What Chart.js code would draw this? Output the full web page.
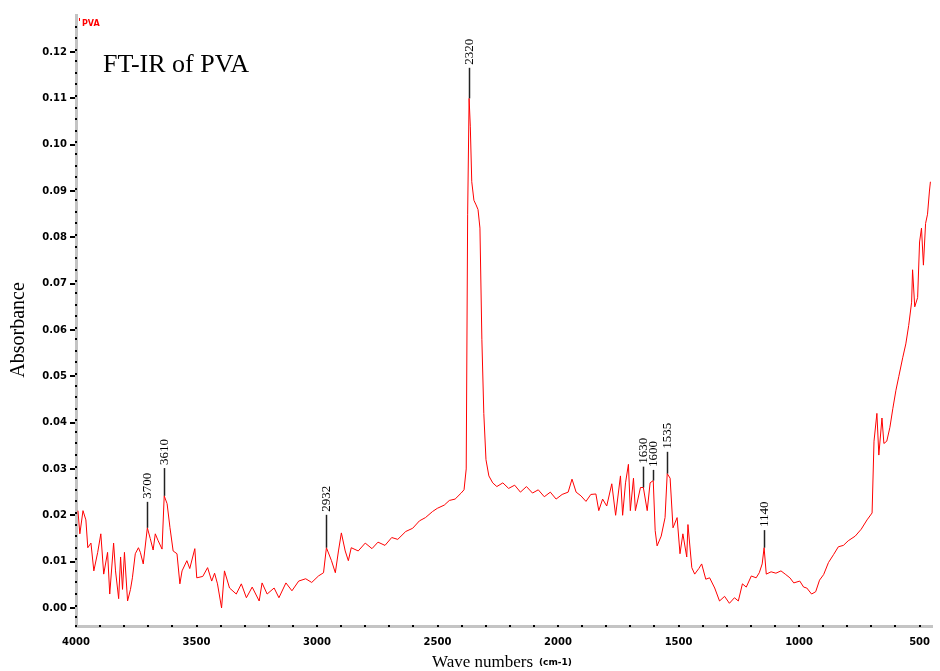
<!DOCTYPE html>
<html>
<head>
<meta charset="utf-8">
<script src="https://cdn.jsdelivr.net/npm/chart.js@4.4.0/dist/chart.umd.min.js"></script>
<style>
  html, body { margin: 0; padding: 0; background: #fff; }
  canvas { display: block; }
</style>
</head>
<body>
<canvas id="ftir" width="940" height="671"></canvas>
<script>
// spectrum (wave number, absorbance)
const waveNumbers = [
  3992, 3984, 3971, 3959, 3951, 3938, 3926, 3910, 3897, 3885, 3869, 3860, 3844, 3836, 3823, 3815,
  3807, 3799, 3786, 3774, 3766, 3754, 3741, 3733, 3721, 3704, 3692, 3680, 3671, 3659, 3643, 3634,
  3622, 3610, 3597, 3581, 3569, 3560, 3540, 3528, 3507, 3499, 3474, 3454, 3437, 3425, 3413, 3396,
  3384, 3363, 3335, 3314, 3293, 3269, 3240, 3228, 3207, 3178, 3158, 3129, 3104, 3076, 3047, 3022,
  2994, 2973, 2961, 2940, 2924, 2911, 2899, 2883, 2870, 2858, 2829, 2800, 2772, 2747, 2718, 2690,
  2665, 2632, 2603, 2575, 2550, 2521, 2501, 2472, 2451, 2427, 2402, 2390, 2381, 2375, 2369, 2364,
  2358, 2349, 2340, 2332, 2324, 2316, 2308, 2299, 2287, 2271, 2254, 2229, 2205, 2180, 2156, 2131,
  2106, 2082, 2057, 2032, 2008, 1983, 1958, 1942, 1925, 1905, 1884, 1864, 1843, 1831, 1815, 1798,
  1777, 1761, 1741, 1732, 1720, 1708, 1700, 1687, 1679, 1658, 1646, 1630, 1618, 1605, 1597, 1589,
  1572, 1556, 1547, 1535, 1523, 1506, 1494, 1482, 1466, 1461, 1445, 1433, 1416, 1404, 1387, 1371,
  1350, 1330, 1309, 1289, 1268, 1252, 1235, 1219, 1198, 1178, 1165, 1153, 1145, 1136, 1116, 1096,
  1075, 1055, 1038, 1022, 997, 981, 968, 948, 931, 915, 898, 878, 857, 837, 816, 796,
  767, 742, 718, 697, 689, 677, 669, 656, 648, 636, 623, 611, 598, 586, 570, 557,
  545, 533, 529, 520, 508, 500, 492, 484, 475, 467, 459, 455
];
const absorbance = [
  0.021, 0.016, 0.021, 0.019, 0.013, 0.014, 0.008, 0.012, 0.016, 0.0073, 0.012, 0.003, 0.014, 0.008, 0.002, 0.011,
  0.004, 0.012, 0.0015, 0.004, 0.0065, 0.0117, 0.013, 0.012, 0.0095, 0.0173, 0.015, 0.0125, 0.016, 0.0145, 0.0127, 0.0242,
  0.0225, 0.0173, 0.0123, 0.0117, 0.0052, 0.008, 0.0102, 0.0085, 0.0128, 0.0065, 0.0068, 0.0087, 0.0058, 0.0075, 0.0052, 0.0,
  0.008, 0.0043, 0.003, 0.0052, 0.0022, 0.0045, 0.0015, 0.0054, 0.003, 0.0043, 0.0022, 0.0054, 0.0037, 0.0058, 0.0063, 0.0055,
  0.0069, 0.0076, 0.013, 0.0102, 0.0076, 0.0123, 0.0162, 0.0123, 0.0102, 0.013, 0.0123, 0.014, 0.0128, 0.0142, 0.0135, 0.0152,
  0.0148, 0.0165, 0.0172, 0.0188, 0.0195, 0.0208, 0.0215, 0.0222, 0.0232, 0.0235, 0.0248, 0.0255, 0.030, 0.085, 0.110, 0.104,
  0.092, 0.088, 0.087, 0.086, 0.082, 0.058, 0.042, 0.032, 0.0285, 0.027, 0.0262, 0.027, 0.0258, 0.0265, 0.025, 0.0262,
  0.0248, 0.0255, 0.024, 0.025, 0.0235, 0.0245, 0.025, 0.0278, 0.025, 0.0242, 0.023, 0.0245, 0.0246, 0.021, 0.0235, 0.022,
  0.0268, 0.020, 0.0285, 0.020, 0.027, 0.031, 0.021, 0.028, 0.021, 0.026, 0.026, 0.021, 0.027, 0.0275, 0.0167, 0.0134,
  0.0155, 0.0195, 0.029, 0.028, 0.0173, 0.0195, 0.0117, 0.016, 0.011, 0.018, 0.0087, 0.0073, 0.0085, 0.0095, 0.0062, 0.0065,
  0.0043, 0.0015, 0.0025, 0.001, 0.0022, 0.0015, 0.0052, 0.0045, 0.0069, 0.0065, 0.0076, 0.0095, 0.013, 0.0073, 0.0078, 0.0075,
  0.008, 0.0072, 0.0065, 0.0054, 0.0058, 0.0045, 0.0043, 0.003, 0.0035, 0.006, 0.0072, 0.0098, 0.0115, 0.0132, 0.0135, 0.0145,
  0.0155, 0.017, 0.019, 0.0205, 0.036, 0.042, 0.033, 0.041, 0.0355, 0.036, 0.039, 0.043, 0.047, 0.050, 0.054, 0.057,
  0.061, 0.066, 0.073, 0.065, 0.067, 0.079, 0.082, 0.074, 0.083, 0.085, 0.090, 0.092
];

// axis ticks
const xTicks = [4000, 3500, 3000, 2500, 2000, 1500, 1000, 500];
const yTicks = [0, 0.01, 0.02, 0.03, 0.04, 0.05, 0.06, 0.07, 0.08, 0.09, 0.10, 0.11, 0.12];

// peak markers: label text, where it sits on the curve, top of the black line
const peakLabels = ['3700', '3610', '2932', '2320', '1630', '1600', '1535', '1140'];
const peakWaves  = [3704, 3634, 2961, 2369, 1646, 1605, 1547, 1145];
const peakTops   = [0.0229, 0.0302, 0.0201, 0.1166, 0.0305, 0.0298, 0.0337, 0.0168];

const tickFont = { family: 'DejaVu Sans', size: 10, weight: 'bold' };

function valueAt(wave) {
    let best = 0;
    for (let i = 1; i < waveNumbers.length; i++) {
        if (Math.abs(waveNumbers[i] - wave) < Math.abs(waveNumbers[best] - wave)) best = i;
    }
    return absorbance[best];
}

// minor dots, peak markers and the texts
const decorations = {
    id: 'decorations',
    afterDraw(chart) {
        const { ctx, chartArea, scales } = chart;
        const x = scales.x, y = scales.y;
        ctx.save();

        // minor tick dots
        ctx.fillStyle = '#000';
        for (let v = -0.002; v <= 0.128; v += 0.0025) {
            ctx.fillRect(chartArea.left - 1, Math.round(y.getPixelForValue(v)) - 1, 2, 2);
        }
        for (let w = 4000; w >= 500; w -= 100) {
            ctx.fillRect(Math.round(x.getPixelForValue(w)) - 1, chartArea.bottom - 1, 2, 2);
        }

        // peak lines and labels
        ctx.strokeStyle = '#222';
        ctx.lineWidth = 1.5;
        ctx.font = '13px "Liberation Serif"';
        ctx.textAlign = 'left';
        ctx.textBaseline = 'middle';
        peakLabels.forEach((label, i) => {
            const px = Math.round(x.getPixelForValue(peakWaves[i])) + 0.5;
            const bottom = y.getPixelForValue(valueAt(peakWaves[i]));
            const top = y.getPixelForValue(peakTops[i]);
            ctx.beginPath();
            ctx.moveTo(px, bottom);
            ctx.lineTo(px, top);
            ctx.stroke();
            ctx.save();
            ctx.translate(px, top - 3);
            ctx.rotate(-Math.PI / 2);
            ctx.fillStyle = '#000';
            ctx.fillText(label, 0, 0);
            ctx.restore();
        });

        // title
        ctx.fillStyle = '#000';
        ctx.textBaseline = 'alphabetic';
        ctx.font = '26px "Liberation Serif"';
        ctx.fillText('FT-IR of PVA', 103, 72);

        // series name
        ctx.fillStyle = '#ff0000';
        ctx.font = 'bold 8px "DejaVu Sans"';
        ctx.fillText('PVA', 82, 26);
        ctx.fillRect(79, 18, 1, 3);

        // axis titles
        ctx.fillStyle = '#000';
        ctx.font = '17px "Liberation Serif"';
        ctx.fillText('Wave numbers', 432, 667);
        ctx.font = 'bold 9px "DejaVu Sans"';
        ctx.fillText('(cm-1)', 539, 665);

        ctx.save();
        ctx.translate(24, 330);
        ctx.rotate(-Math.PI / 2);
        ctx.textAlign = 'center';
        ctx.font = '20px "Liberation Serif"';
        ctx.fillText('Absorbance', 0, 0);
        ctx.restore();

        ctx.restore();
    }
};

function createSpectrum() {
    const ctx = document.getElementById('ftir').getContext('2d');
    new Chart(ctx, {
        type: 'line',
        data: {
            datasets: [{
                label: 'PVA',
                data: waveNumbers.map((w, i) => ({ x: w, y: absorbance[i] })),
                borderColor: '#ff0000',
                borderWidth: 1,
                pointRadius: 0,
                tension: 0
            }]
        },
        options: {
            responsive: false,
            animation: false,
            devicePixelRatio: 1,
            layout: { padding: { top: 15, right: 0, left: 0, bottom: 0 } },
            plugins: {
                legend: { display: false },
                tooltip: { enabled: false }
            },
            scales: {
                x: {
                    type: 'linear',
                    reverse: true,
                    min: 446,
                    max: 4000,
                    afterBuildTicks: axis => { axis.ticks = xTicks.map(v => ({ value: v })); },
                    afterFit: axis => { axis.height = 45; },
                    grid: { display: true, drawOnChartArea: false, drawTicks: false },
                    border: { color: '#c4c4c4', width: 3 },
                    ticks: {
                        color: '#000',
                        font: tickFont,
                        padding: 10,
                        maxRotation: 0,
                        autoSkip: false,
                        callback: v => String(v)
                    }
                },
                y: {
                    min: -0.0039,
                    max: 0.128,
                    afterBuildTicks: axis => { axis.ticks = yTicks.map(v => ({ value: v })); },
                    afterFit: axis => { axis.width = 76; },
                    grid: { display: true, drawOnChartArea: false, drawTicks: true, tickLength: 6, color: '#000', lineWidth: 2 },
                    border: { color: '#c4c4c4', width: 3 },
                    ticks: {
                        color: '#000',
                        font: tickFont,
                        padding: 3,
                        autoSkip: false,
                        callback: v => v.toFixed(2)
                    }
                }
            }
        },
        plugins: [decorations]
    });
}

document.addEventListener('DOMContentLoaded', createSpectrum);
</script>
</body>
</html>
